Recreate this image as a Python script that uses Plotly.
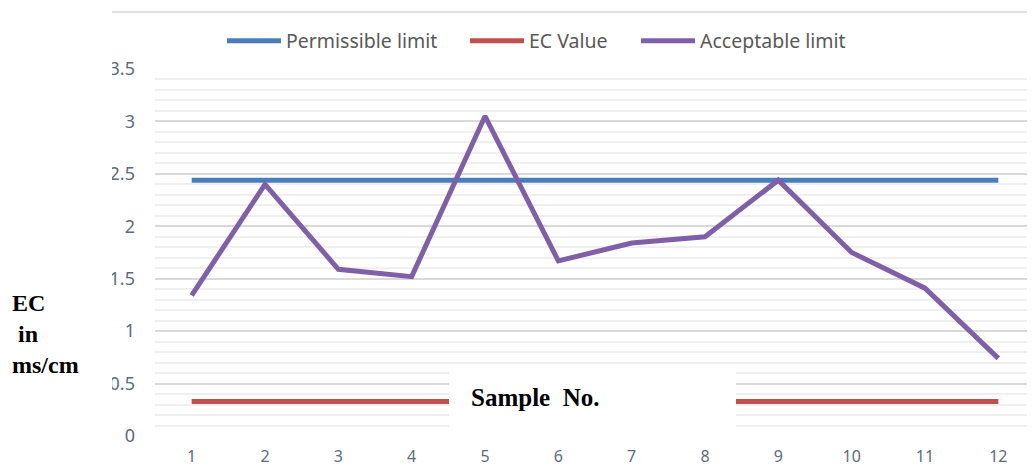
import plotly.graph_objects as go

samples = ["1", "2", "3", "4", "5", "6", "7", "8", "9", "10", "11", "12"]
permissible = [2.44] * 12
ec_value = [0.33] * 12
acceptable = [1.34, 2.40, 1.59, 1.52, 3.05, 1.67, 1.84, 1.90, 2.44, 1.75, 1.41, 0.74]
y_ticks = [0, 0.5, 1, 1.5, 2, 2.5, 3, 3.5]
y_tick_text = ["0", "0.5", "1", "1.5", "2", "2.5", "3", "3.5"]

OFF = 8  # page body margin
W, H = 1035 - OFF, 468 - OFF
# plot area in screen pixels: left 155, top 69, right 1035, bottom 436
ML, MT = 155 - OFF, 69 - OFF
MR, MB = 0, 468 - 436
PW, PH = W - ML - MR, H - MT - MB

def px(x):  # screen x -> paper
    return (x - OFF - ML) / PW

def py(y):  # screen y -> paper
    return 1 - (y - OFF - MT) / PH

fig = go.Figure()
series = [
    ("Permissible limit", permissible, "#4a7ebb", 174),
    ("EC Value", ec_value, "#c0504d", 102),
    ("Acceptable limit", acceptable, "#7f60a8", None),
]
for name, vals, col, lw in series:
    fig.add_trace(go.Scatter(
        x=samples, y=vals, name=name, mode="lines",
        line=dict(color=col, width=5), legendwidth=lw,
    ))

fig.update_layout(
    width=W, height=H,
    margin=dict(l=ML, r=MR, t=MT, b=MB),
    paper_bgcolor="white", plot_bgcolor="white",
    font=dict(family="Noto Sans", color="#595959"),
    showlegend=True,
    legend=dict(
        orientation="h", x=px(222), xanchor="left", y=py(41), yanchor="middle",
        font=dict(size=19.5, color="#595959"), bgcolor="rgba(0,0,0,0)",
        itemwidth=54, tracegroupgap=0,
    ),
    xaxis=dict(
        type="category", range=[-0.5, 11.5], showgrid=False, zeroline=False,
        showline=False, ticks="", tickfont=dict(size=16, color="#5f6b7a"),
        ticklabelstandoff=9, automargin=False,
    ),
    yaxis=dict(
        range=[0, 3.5], tickvals=y_ticks, ticktext=y_tick_text,
        showgrid=True, gridcolor="#d9d9d9", gridwidth=1.5, zeroline=False,
        showline=False, ticks="", tickfont=dict(size=18, color="#5f6b7a"),
        ticklabelstandoff=19, automargin=False,
        minor=dict(dtick=0.1, showgrid=True, gridcolor="#efefef", gridwidth=1.5),
    ),
)

# top border fragment
fig.add_shape(type="line", xref="paper", yref="paper", x0=px(93), x1=1.0,
              y0=py(12), y1=py(12), line=dict(color="#e0e0e0", width=2), layer="above")
# left crop of tick labels (reference image is cropped here)
fig.add_shape(type="rect", xref="paper", yref="paper", x0=px(0), x1=px(112),
              y0=py(468), y1=py(0), fillcolor="white", line=dict(width=0), layer="above")
# white box behind axis title
fig.add_shape(type="rect", xref="paper", yref="paper", x0=px(449), x1=px(736),
              y0=py(427), y1=py(366), fillcolor="white", line=dict(width=0), layer="above")

serif = dict(family="Liberation Serif", size=25, color="black")
fig.add_annotation(text="<b>Sample&nbsp; No.</b>", xref="paper", yref="paper",
                   x=px(469), y=py(397), xanchor="left", yanchor="middle",
                   showarrow=False, font=serif)
fig.add_annotation(text="<b>EC<br>&nbsp;in<br>ms/cm</b>", xref="paper", yref="paper",
                   x=px(10), y=py(334), xanchor="left", yanchor="middle", align="left",
                   showarrow=False, font=dict(family="Liberation Serif", size=24, color="black"))

fig.write_html("out.html")
